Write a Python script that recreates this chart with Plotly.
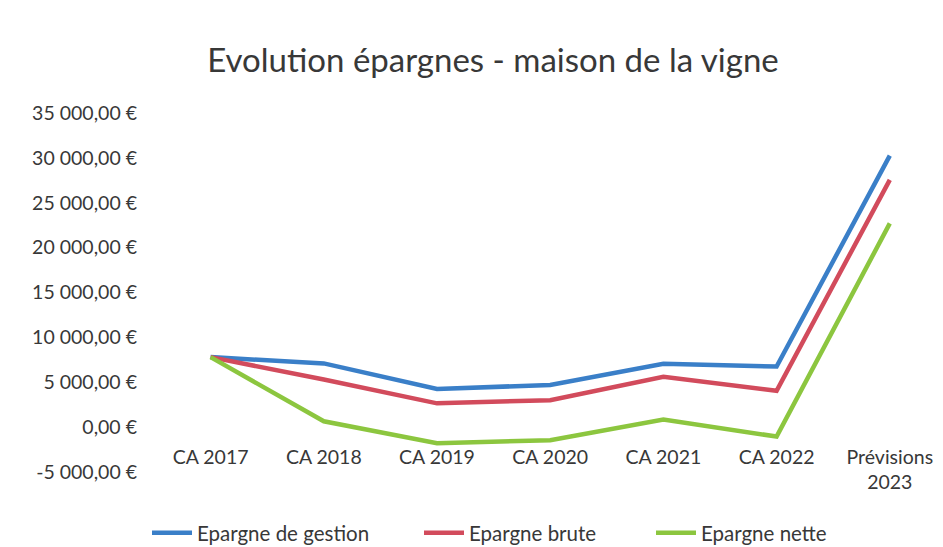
import plotly.graph_objects as go

# Categories (years) and savings series, in euros
categories = ["CA 2017", "CA 2018", "CA 2019", "CA 2020", "CA 2021", "CA 2022", "Prévisions<br>2023"]
epargne_gestion = [7800, 7100, 4250, 4700, 7050, 6750, 30250]
epargne_brute = [7800, 5300, 2650, 3000, 5600, 4050, 27550]
epargne_nette = [7800, 650, -1800, -1450, 850, -1050, 22700]

y_ticks = [-5000, 0, 5000, 10000, 15000, 20000, 25000, 30000, 35000]


def euro(v):
    s = f"{abs(v):,.2f}".replace(",", " ").replace(".", ",")
    return ("-" if v < 0 else "") + s + " €"


y_ticktext = [euro(v) for v in y_ticks]

FONT = "Lato, 'Open Sans', sans-serif"
TEXT = "#383838"

W, H = 943, 547
top, bottom, left = 113, 75, 154
plot_w = W - left
plot_h = H - top - bottom
y_min, y_max = -5000, 35000
zero_frac = (0 - y_min) / (y_max - y_min)

fig = go.Figure()
series = [
    ("Epargne de gestion", epargne_gestion, "#3a7fc8", "legend", 147),
    ("Epargne brute", epargne_brute, "#d24b5c", "legend2", 419),
    ("Epargne nette", epargne_nette, "#8cc63f", "legend3", 651),
]
legend_cfg = {}
for name, vals, color, leg, px in series:
    fig.add_trace(go.Scatter(
        x=list(range(len(categories))), y=vals, name=name, mode="lines",
        line=dict(color=color, width=4.5), legend=leg,
    ))
    legend_cfg[leg] = dict(
        orientation="h", x=(px - left) / plot_w, xanchor="left",
        y=-61 / plot_h, yanchor="middle", bgcolor="rgba(0,0,0,0)",
        font=dict(size=20.5, color=TEXT, family=FONT), itemwidth=40,
    )

fig.update_layout(
    width=W, height=H,
    margin=dict(l=left, r=0, t=top, b=bottom, autoexpand=False),
    paper_bgcolor="white", plot_bgcolor="white",
    font=dict(family=FONT, color=TEXT, size=19.5),
    title=dict(
        text="Evolution épargnes - maison de la vigne",
        x=(493 - left) / plot_w, xref="paper", xanchor="center",
        y=1 - 60 / H, yref="container", yanchor="middle",
        font=dict(size=33, color=TEXT, family=FONT),
    ),
    xaxis=dict(
        tickmode="array", tickvals=list(range(len(categories))), ticktext=categories,
        range=[-0.5, 6.47], showgrid=False, zeroline=False, showline=False,
        anchor="free", position=zero_frac, ticks="", ticklabelstandoff=16,
        automargin=False,
    ),
    yaxis=dict(
        range=[y_min, y_max], tickmode="array", tickvals=y_ticks, ticktext=y_ticktext,
        showgrid=False, zeroline=False, showline=False, ticks="",
        ticklabelstandoff=16, automargin=False,
    ),
    showlegend=True,
    **legend_cfg,
)

fig.write_html("out.html")
